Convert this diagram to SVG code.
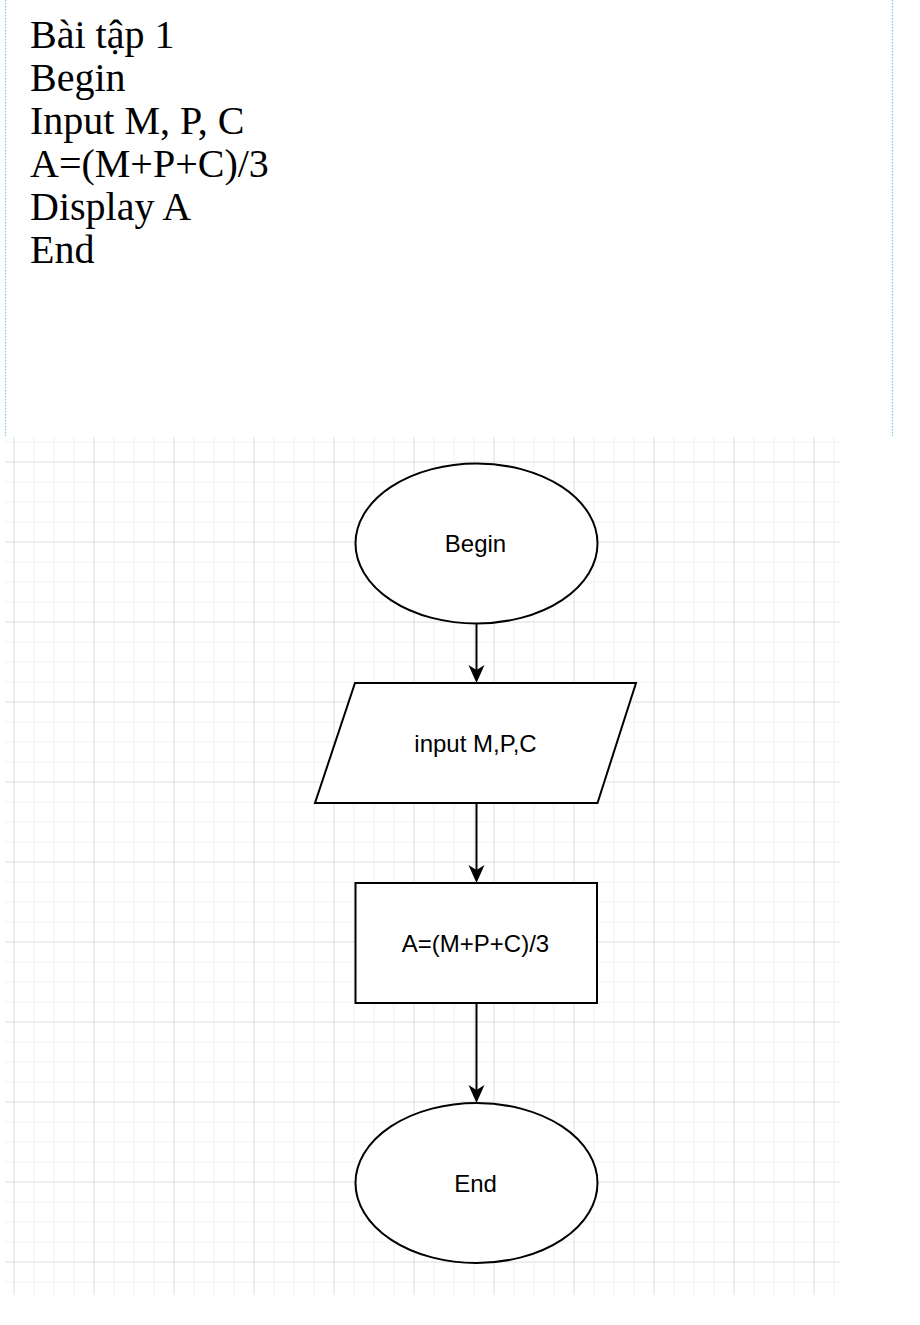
<svg xmlns="http://www.w3.org/2000/svg" width="920" height="1325" viewBox="0 0 920 1325">
<style>
.title{font-family:"Liberation Serif","Times New Roman",serif;font-size:40px;fill:#000}
.lbl{font-family:"Liberation Sans",Arial,sans-serif;font-size:24px;fill:#000;text-anchor:middle}
.shape{fill:#fff;stroke:#000;stroke-width:2}
.edge{fill:none;stroke:#000;stroke-width:2}
.guide{stroke:#7cc7ea;stroke-width:1.2;stroke-dasharray:1.5 1.5}
</style>
<defs>
<pattern id="grid" patternUnits="userSpaceOnUse" x="13.5" y="461.5" width="80" height="80">
<rect x="0" y="0" width="80" height="80" fill="#fff"/>
<g fill="#f1f1f1">
<rect x="20" y="0" width="1" height="80"/><rect x="40" y="0" width="1" height="80"/><rect x="60" y="0" width="1" height="80"/>
<rect x="0" y="20" width="80" height="1"/><rect x="0" y="40" width="80" height="1"/><rect x="0" y="60" width="80" height="1"/>
</g>
<g fill="#dcdcdc">
<rect x="0" y="0" width="1" height="80"/><rect x="0" y="0" width="80" height="1"/>
</g>
</pattern>
</defs>
<rect width="920" height="1325" fill="#fff"/>
<line class="guide" x1="5.5" y1="0" x2="5.5" y2="436"/>
<line class="guide" x1="892.5" y1="0" x2="892.5" y2="436"/>
<g id="pseudocode">
<text class="title" x="30" y="48">Bài tập 1</text>
<text class="title" x="30" y="91">Begin</text>
<text class="title" x="30" y="134">Input M, P, C</text>
<text class="title" x="30" y="177">A=(M+P+C)/3</text>
<text class="title" x="30" y="220">Display A</text>
<text class="title" x="30" y="263">End</text>
</g>
<rect x="5" y="437" width="835" height="858" fill="url(#grid)"/>
<g id="connectors">
<line class="edge" x1="476.5" y1="623.5" x2="476.5" y2="671"/>
<path d="M476.5,683 L468.5,665 L476.5,670 L484.5,665 Z" fill="#000"/>
<line class="edge" x1="476.5" y1="803" x2="476.5" y2="871"/>
<path d="M476.5,883 L468.5,865 L476.5,870 L484.5,865 Z" fill="#000"/>
<line class="edge" x1="476.5" y1="1003" x2="476.5" y2="1091"/>
<path d="M476.5,1103 L468.5,1085 L476.5,1090 L484.5,1085 Z" fill="#000"/>
</g>
<g id="node-begin">
<ellipse class="shape" cx="476.5" cy="543.5" rx="121" ry="80"/>
<text class="lbl" x="475.5" y="552">Begin</text>
</g>
<g id="node-input">
<polygon class="shape" points="355,683 636,683 597.5,803 315,803"/>
<text class="lbl" x="475.5" y="751.5">input M,P,C</text>
</g>
<g id="node-process">
<rect class="shape" x="355.5" y="883" width="241.5" height="120"/>
<text class="lbl" x="475.5" y="951.5">A=(M+P+C)/3</text>
</g>
<g id="node-end">
<ellipse class="shape" cx="476.5" cy="1183" rx="121" ry="80"/>
<text class="lbl" x="475.5" y="1191.5">End</text>
</g>
</svg>
